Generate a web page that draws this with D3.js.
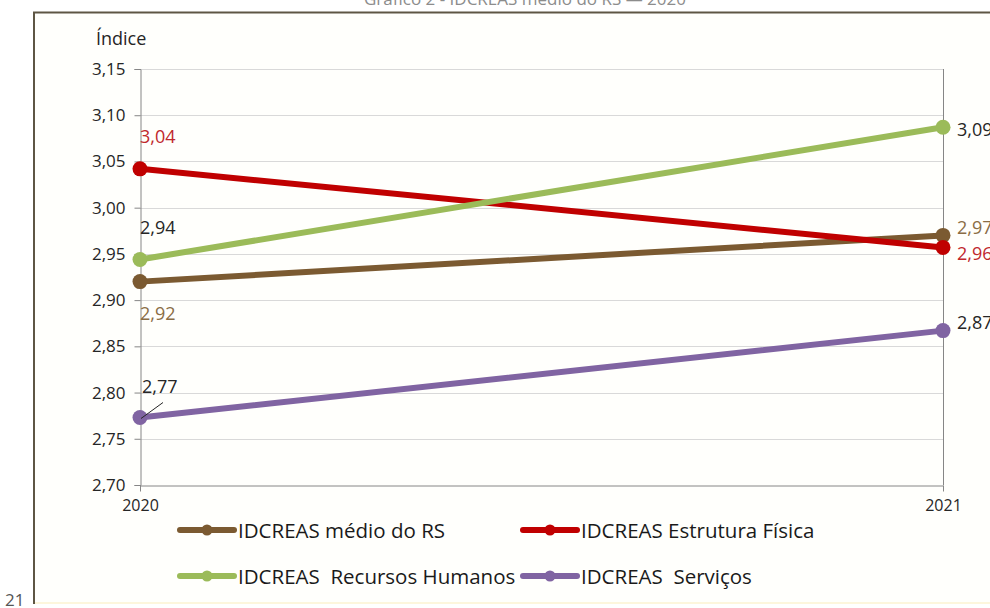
<!DOCTYPE html>
<html>
<head>
<meta charset="utf-8">
<script src="https://cdn.jsdelivr.net/npm/d3@7"></script>
<style>
  html, body { margin: 0; padding: 0; background: #ffffff; }
  svg { display: block; }
  text { font-family: "Open Sans", Lato, sans-serif; }
</style>
</head>
<body>
<svg id="chart" width="990" height="608"></svg>
<script>
// Anos (categorias do eixo X)
const years = ["2020", "2021"];

// Séries do IDCREAS
const medioRS = [2.92, 2.97];
const estruturaFisica = [3.042, 2.957];
const recursosHumanos = [2.944, 3.087];
const servicos = [2.773, 2.867];

const seriesNames = [
  "IDCREAS médio do RS",
  "IDCREAS Estrutura Física",
  "IDCREAS  Recursos Humanos",
  "IDCREAS  Serviços"
];
const seriesColors = ["#7b5a31", "#c00000", "#9bbb59", "#8064a2"];
const labelColors = ["#8a6d45", "#c0282d", "#262626", "#262626"];

// Marcas do eixo Y
const yTicks = [2.70, 2.75, 2.80, 2.85, 2.90, 2.95, 3.00, 3.05, 3.10, 3.15];

const series = [medioRS, estruturaFisica, recursosHumanos, servicos].map((v, i) => ({
  name: seriesNames[i], color: seriesColors[i], labelColor: labelColors[i], values: v
}));

const fmt = v => v.toFixed(2).replace(".", ",");
const FONT = "'Open Sans', Lato, sans-serif";

const svg = d3.select("#chart");

// Título no topo da página
svg.append("text")
  .attr("x", 525).attr("y", 5)
  .attr("text-anchor", "middle")
  .attr("font-size", 17).attr("fill", "#8c8c8c")
  .text("Gráfico 2 - IDCREAS médio do RS — 2020");

// Quadro do gráfico
svg.append("rect")
  .attr("x", 33).attr("y", 12).attr("width", 980).attr("height", 590)
  .attr("fill", "#fffffc");
svg.append("line").attr("x1", 33).attr("x2", 990).attr("y1", 603).attr("y2", 603)
  .attr("stroke", "#fdf6dc").attr("stroke-width", 2);
svg.append("path")
  .attr("d", "M34,604 V12.5 H990")
  .attr("fill", "none").attr("stroke", "#5e5644").attr("stroke-width", 2);

// Número da página
svg.append("text").attr("x", 5).attr("y", 606)
  .attr("font-size", 17).attr("fill", "#555").text("21");

const x = d3.scalePoint().domain(years).range([140, 943]);
const y = d3.scaleLinear().domain([2.70, 3.15]).range([485, 69]);

// Linhas de grade
svg.append("g").selectAll("line").data(yTicks.slice(1)).join("line")
  .attr("x1", 140).attr("x2", 943)
  .attr("y1", d => Math.round(y(d)) + 0.5).attr("y2", d => Math.round(y(d)) + 0.5)
  .attr("stroke", "#d9d9d9").attr("stroke-width", 1);

// Eixo Y
const yAxis = svg.append("g").attr("transform", "translate(140.5,0)")
  .call(d3.axisLeft(y).tickValues(yTicks).tickFormat(fmt).tickSize(6).tickPadding(9));
yAxis.select(".domain").attr("stroke", "#868686");
yAxis.selectAll(".tick line").attr("stroke", "#868686");
yAxis.selectAll(".tick text").attr("font-size", 17).attr("fill", "#262626")
  .style("font-family", FONT);

// Linha vertical da direita
svg.append("line").attr("x1", 943.5).attr("x2", 943.5).attr("y1", 69).attr("y2", 485)
  .attr("stroke", "#868686");

// Eixo X
const xAxis = svg.append("g").attr("transform", `translate(0,${Math.round(y(2.70)) + 0.5})`)
  .call(d3.axisBottom(x).tickSize(6).tickPadding(8).tickSizeOuter(0));
xAxis.select(".domain").attr("stroke", "#868686");
xAxis.selectAll(".tick line").attr("stroke", "#868686");
xAxis.selectAll(".tick text").attr("font-size", 16).attr("fill", "#262626")
  .style("font-family", FONT);

// Título do eixo Y
svg.append("text").attr("x", 96).attr("y", 45)
  .attr("font-size", 18).attr("fill", "#262626").text("Índice");

// Linhas e marcadores
const line = d3.line().x((d, i) => x(years[i])).y(d => y(d));
const g = svg.append("g");
series.forEach(s => {
  g.append("path").datum(s.values).attr("d", line)
    .attr("fill", "none").attr("stroke", s.color).attr("stroke-width", 6)
    .attr("stroke-linecap", "round");
  g.selectAll(null).data(s.values).join("circle")
    .attr("cx", (d, i) => x(years[i])).attr("cy", d => y(d)).attr("r", 7.5)
    .attr("fill", s.color);
});

// Rótulos de dados (deslocamento da linha de base em relação ao ponto)
const leftOffsets = [38, -26, -25, -25];
const rightOffsets = [-1, 13, 9, -2];
series.forEach((s, k) => {
  svg.append("text")
    .attr("x", k === 3 ? 142 : 140).attr("y", y(s.values[0]) + leftOffsets[k])
    .attr("font-size", 18).attr("fill", s.labelColor).text(fmt(s.values[0]));
  svg.append("text")
    .attr("x", 957).attr("y", y(s.values[1]) + rightOffsets[k])
    .attr("font-size", 18).attr("fill", s.labelColor).text(fmt(s.values[1]));
});
// Linha de chamada do rótulo 2,77
svg.append("line")
  .attr("x1", x("2020") + 1).attr("y1", y(servicos[0]) + 1)
  .attr("x2", x("2020") + 23).attr("y2", y(servicos[0]) - 15)
  .attr("stroke", "#262626").attr("stroke-width", 1);

// Legenda
const legendPos = [[180, 530], [523, 530], [180, 576], [523, 576]];
series.forEach((s, i) => {
  const [lx, ly] = legendPos[i];
  const lg = svg.append("g").attr("transform", `translate(${lx},${ly})`);
  lg.append("line").attr("x1", 0).attr("x2", 54).attr("y1", 0).attr("y2", 0)
    .attr("stroke", s.color).attr("stroke-width", 6).attr("stroke-linecap", "round");
  lg.append("circle").attr("cx", 27).attr("cy", 0).attr("r", 5.5).attr("fill", s.color);
  lg.append("text").attr("x", 58).attr("y", 7.5)
    .attr("font-size", 20.5).attr("fill", "#1a1a1a")
    .attr("xml:space", "preserve").style("white-space", "pre")
    .text(s.name);
});
</script>
</body>
</html>
